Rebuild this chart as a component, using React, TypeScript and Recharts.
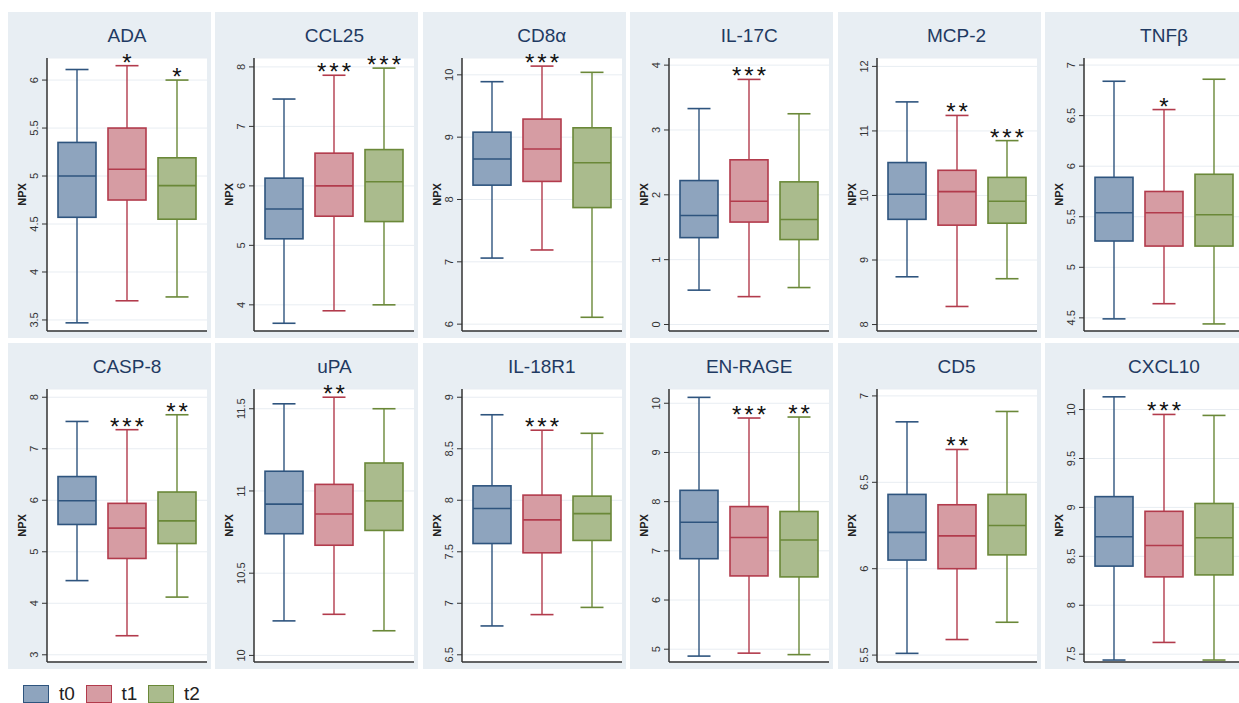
import React from "react";
import { ComposedChart, Bar, XAxis, YAxis, CartesianGrid } from "recharts";

const categories = ["t0", "t1", "t2"];
const markers = ["ADA", "CCL25", "CD8α", "IL-17C", "MCP-2", "TNFβ", "CASP-8", "uPA", "IL-18R1", "EN-RAGE", "CD5", "CXCL10"];

// box plot statistics per marker, one value per time point (t0, t1, t2)
const lowWhisker = [
  [3.47, 3.7, 3.74],
  [3.69, 3.9, 4.0],
  [7.06, 7.19, 6.11],
  [0.53, 0.43, 0.57],
  [8.74, 8.28, 8.71],
  [4.49, 4.64, 4.44],
  [4.44, 3.37, 4.12],
  [10.21, 10.25, 10.15],
  [6.78, 6.89, 6.96],
  [4.86, 4.92, 4.89],
  [5.51, 5.59, 5.69],
  [7.44, 7.62, 7.44],
];
const lowerQuartile = [
  [4.57, 4.75, 4.55],
  [5.11, 5.49, 5.4],
  [8.23, 8.29, 7.87],
  [1.34, 1.58, 1.31],
  [9.63, 9.54, 9.57],
  [5.26, 5.21, 5.21],
  [5.53, 4.87, 5.16],
  [10.74, 10.67, 10.76],
  [7.58, 7.49, 7.61],
  [6.84, 6.49, 6.47],
  [6.05, 6.0, 6.08],
  [8.4, 8.29, 8.31],
];
const medianValue = [
  [5.0, 5.07, 4.9],
  [5.61, 6.0, 6.07],
  [8.65, 8.81, 8.59],
  [1.68, 1.9, 1.62],
  [10.02, 10.06, 9.91],
  [5.54, 5.54, 5.52],
  [5.99, 5.46, 5.6],
  [10.92, 10.86, 10.94],
  [7.92, 7.81, 7.87],
  [7.58, 7.27, 7.22],
  [6.21, 6.19, 6.25],
  [8.7, 8.61, 8.69],
];
const upperQuartile = [
  [5.35, 5.5, 5.19],
  [6.13, 6.55, 6.61],
  [9.08, 9.29, 9.15],
  [2.22, 2.54, 2.2],
  [10.51, 10.39, 10.28],
  [5.89, 5.75, 5.92],
  [6.46, 5.94, 6.16],
  [11.12, 11.04, 11.17],
  [8.14, 8.05, 8.04],
  [8.23, 7.9, 7.8],
  [6.43, 6.37, 6.43],
  [9.11, 8.96, 9.04],
];
const highWhisker = [
  [6.11, 6.15, 6.0],
  [7.46, 7.86, 7.98],
  [9.89, 10.14, 10.04],
  [3.33, 3.78, 3.25],
  [11.45, 11.24, 10.85],
  [6.84, 6.56, 6.86],
  [7.53, 7.37, 7.66],
  [11.53, 11.57, 11.5],
  [8.83, 8.68, 8.65],
  [10.12, 9.7, 9.72],
  [6.85, 6.69, 6.91],
  [10.13, 9.95, 9.94],
];
const significance = [
  ["", "*", "*"],
  ["", "***", "***"],
  ["", "***", ""],
  ["", "***", ""],
  ["", "**", "***"],
  ["", "*", ""],
  ["", "***", "**"],
  ["", "**", ""],
  ["", "***", ""],
  ["", "***", "**"],
  ["", "**", ""],
  ["", "***", ""],
];
const yTicks = [
  [3.5, 4, 4.5, 5, 5.5, 6],
  [4, 5, 6, 7, 8],
  [6, 7, 8, 9, 10],
  [0, 1, 2, 3, 4],
  [8, 9, 10, 11, 12],
  [4.5, 5, 5.5, 6, 6.5, 7],
  [3, 4, 5, 6, 7, 8],
  [10, 10.5, 11, 11.5],
  [6.5, 7, 7.5, 8, 8.5, 9],
  [5, 6, 7, 8, 9, 10],
  [5.5, 6, 6.5, 7],
  [7.5, 8, 8.5, 9, 9.5, 10],
];
const yDomains = [
  [3.385, 6.23],
  [3.56, 8.15],
  [5.89, 10.27],
  [-0.1, 4.11],
  [7.9, 12.13],
  [4.37, 7.07],
  [2.86, 8.16],
  [9.96, 11.62],
  [6.43, 9.08],
  [4.74, 10.29],
  [5.46, 7.04],
  [7.42, 10.21],
];

const fills = ["#8ea4be", "#d69ca3", "#aabb8d"];
const strokes = ["#2e547e", "#b23b4c", "#6a8838"];
const FONT = "'Liberation Sans', Arial, sans-serif";

const PANEL_W = 203;
const PANEL_H = 326;
const AXIS_W = 39;
const PLOT_TOP = 46;
const PLOT_W = 160;

function BoxShape(props: any) {
  const { x, y, width, height, payload, index } = props;
  const top = Math.min(y, y + height);
  const bottom = Math.max(y, y + height);
  const span = payload.hi - payload.lo;
  const py = (v: number) => bottom - ((v - payload.lo) / span) * (bottom - top);
  const cx = x + width / 2;
  const col = strokes[index];
  const cap = 11.5;
  return (
    <g>
      <line x1={cx} x2={cx} y1={top} y2={bottom} stroke={col} strokeWidth={1.4} />
      <line x1={cx - cap} x2={cx + cap} y1={top} y2={top} stroke={col} strokeWidth={1.6} />
      <line x1={cx - cap} x2={cx + cap} y1={bottom} y2={bottom} stroke={col} strokeWidth={1.6} />
      <rect
        x={x}
        y={py(payload.q3)}
        width={width}
        height={py(payload.q1) - py(payload.q3)}
        fill={fills[index]}
        stroke={col}
        strokeWidth={1.6}
      />
      <line x1={x} x2={x + width} y1={py(payload.med)} y2={py(payload.med)} stroke={col} strokeWidth={1.6} />
      {payload.sig && (
        <text x={cx + 1.5} y={top + 5} textAnchor="middle" fontSize={24} fontFamily={FONT} fill="#111" letterSpacing={3}>
          {payload.sig}
        </text>
      )}
    </g>
  );
}

function YTick(props: any) {
  const { x, y, payload } = props;
  const cx = x - 5;
  return (
    <text
      x={cx}
      y={y}
      transform={`rotate(-90 ${cx} ${y})`}
      textAnchor="middle"
      dominantBaseline="central"
      fontSize={11}
      fontFamily={FONT}
      fill="#333"
    >
      {payload.value}
    </text>
  );
}

function Panel({ m }: { m: number }) {
  const data = categories.map((c, i) => ({
    cat: c,
    lo: lowWhisker[m][i],
    q1: lowerQuartile[m][i],
    med: medianValue[m][i],
    q3: upperQuartile[m][i],
    hi: highWhisker[m][i],
    sig: significance[m][i],
  }));
  const row = m < 6 ? 0 : 1;
  const colIdx = m % 6;
  const left = 8 + colIdx * 207.4;
  const top = row === 0 ? 12 : 343;
  return (
    <div style={{ position: "absolute", left, top, width: PANEL_W, height: PANEL_H, background: "#e8eef3" }}>
      <div
        style={{
          position: "absolute",
          left: AXIS_W,
          width: PLOT_W,
          top: 12,
          textAlign: "center",
          fontFamily: FONT,
          fontSize: 19,
          color: "#1f3a62",
          lineHeight: "24px",
          whiteSpace: "nowrap",
        }}
      >
        {markers[m]}
      </div>
      <ComposedChart
        width={PANEL_W + 20}
        height={PANEL_H}
        data={data}
        margin={{ top: PLOT_TOP, right: PANEL_W + 20 - AXIS_W - PLOT_W, left: 0, bottom: 6 }}
        style={{ position: "absolute", left: 0, top: 0 }}
      >
        <CartesianGrid vertical={false} stroke="#e8edf2" fill="#ffffff" fillOpacity={1} />
        <XAxis
          dataKey="cat"
          tick={false}
          tickLine={false}
          height={1}
          padding={{ left: 5, right: 5 }}
          axisLine={{ stroke: "#333", strokeWidth: 1.5 }}
        />
        <YAxis
          type="number"
          width={AXIS_W}
          domain={yDomains[m]}
          ticks={yTicks[m]}
          interval={0}
          tickSize={5}
          tickMargin={3}
          tick={<YTick />}
          tickLine={{ stroke: "#333" }}
          axisLine={{ stroke: "#333", strokeWidth: 1.5 }}
          label={{
            content: (p: any) => {
              const vb = p.viewBox || { x: 0, y: PLOT_TOP, height: 273 };
              const lx = 14;
              const ly = vb.y + vb.height / 2;
              return (
                <text
                  x={lx}
                  y={ly}
                  transform={`rotate(-90 ${lx} ${ly})`}
                  textAnchor="middle"
                  dominantBaseline="central"
                  fontSize={11}
                  fontWeight="bold"
                  fontFamily={FONT}
                  fill="#222"
                >
                  NPX
                </text>
              );
            },
          }}
        />
        <Bar dataKey={(d: any) => [d.lo, d.hi]} barSize={38} shape={<BoxShape />} isAnimationActive={false} />
      </ComposedChart>
    </div>
  );
}

export default function App() {
  return (
    <div
      style={{
        position: "absolute",
        left: 0,
        top: 0,
        width: 1239,
        height: 703,
        overflow: "hidden",
        background: "#ffffff",
      }}
    >
      {markers.map((_, m) => (
        <Panel key={m} m={m} />
      ))}
      {categories.map((c, i) => (
        <div key={c} style={{ position: "absolute", left: 23 + i * 62.5, top: 684, display: "flex", alignItems: "center" }}>
          <div style={{ width: 26, height: 18, background: fills[i], border: `1.5px solid ${strokes[i]}`, boxSizing: "border-box" }} />
          <span style={{ marginLeft: 10, fontFamily: FONT, fontSize: 19, color: "#222", lineHeight: "19px" }}>{c}</span>
        </div>
      ))}
    </div>
  );
}
